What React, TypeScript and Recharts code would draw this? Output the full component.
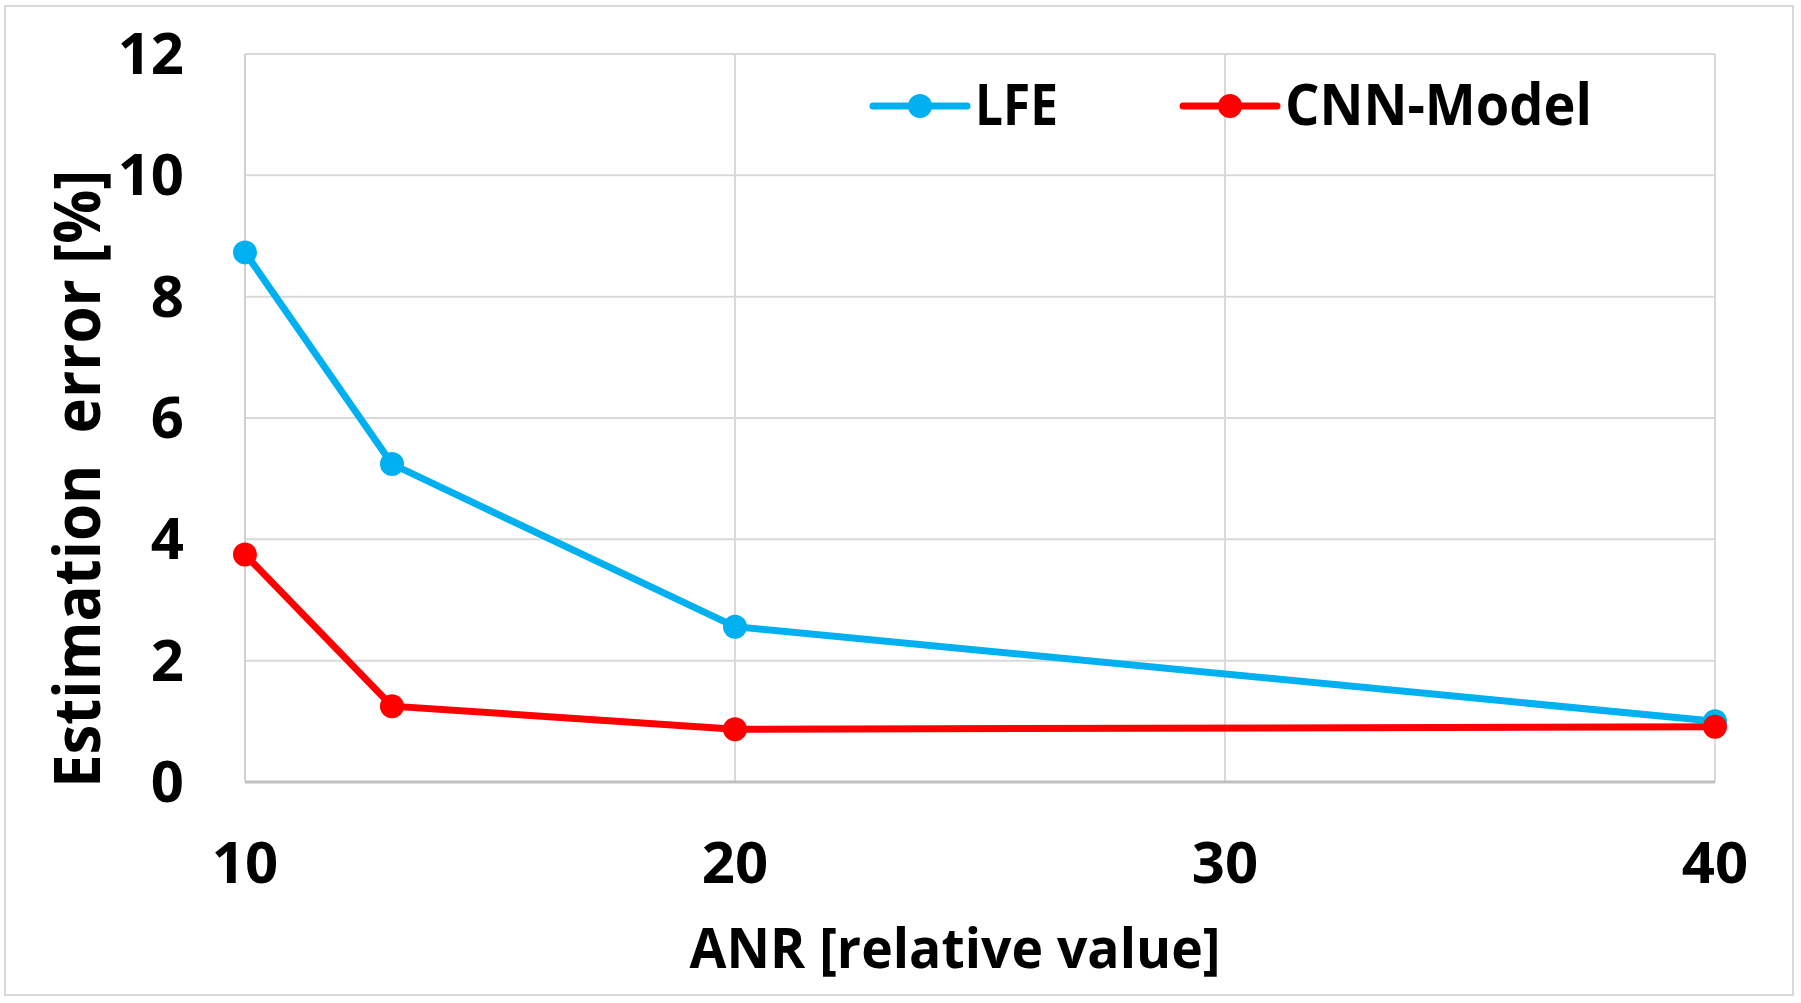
import { LineChart, Line, XAxis, YAxis, CartesianGrid, Legend } from 'recharts';

const anr = [10, 13, 20, 40];
const lfeError = [8.73, 5.24, 2.56, 1.0];
const cnnError = [3.75, 1.25, 0.87, 0.91];
const xTicks = [10, 20, 30, 40];
const yTicks = [0, 2, 4, 6, 8, 10, 12];

const data = anr.map((x, i) => ({ anr: x, lfe: lfeError[i], cnn: cnnError[i] }));

const FONT = '"Open Sans", "Noto Sans", sans-serif';
const LFE_COLOR = '#00B0F0';
const CNN_COLOR = '#FF0000';

const XTick = ({ x, y, payload }: any) => (
  <text x={x} y={y + 101} textAnchor="middle" fontFamily={FONT} fontWeight={700} fontSize={58} fill="#000">
    {payload.value}
  </text>
);

const YTick = ({ x, y, payload }: any) => (
  <text x={x - 61} y={y + 20} textAnchor="end" fontFamily={FONT} fontWeight={700} fontSize={58} fill="#000">
    {payload.value}
  </text>
);

const XLabel = ({ viewBox }: any) => (
  <text
    x={viewBox.x + viewBox.width / 2 - 25}
    y={968}
    textAnchor="middle"
    fontFamily={FONT}
    fontWeight={700}
    fontSize={56}
    fill="#000"
    textLength={531}
    lengthAdjust="spacingAndGlyphs"
  >
    ANR [relative value]
  </text>
);

const YLabel = () => (
  <text
    x={0}
    y={0}
    transform="translate(100, 479) rotate(-90)"
    textAnchor="middle"
    fontFamily={FONT}
    fontWeight={700}
    fontSize={65}
    fill="#000"
    textLength={618}
    lengthAdjust="spacingAndGlyphs"
    style={{ whiteSpace: 'pre' }}
  >
    {'Estimation  error [%]'}
  </text>
);

const renderLegend = () => {
  const items = [
    { name: 'LFE', color: LFE_COLOR, x0: 13, textLen: 83 },
    { name: 'CNN-Model', color: CNN_COLOR, x0: 323, textLen: 307 },
  ];
  return (
    <svg width={800} height={110} style={{ display: 'block', overflow: 'visible' }}>
      {items.map((it) => (
        <g key={it.name}>
          <line x1={it.x0} x2={it.x0 + 94} y1={55} y2={55} stroke={it.color} strokeWidth={7} strokeLinecap="round" />
          <circle cx={it.x0 + 47} cy={55} r={12} fill={it.color} />
          <text
            x={it.x0 + 102}
            y={74}
            fontFamily={FONT}
            fontWeight={700}
            fontSize={58}
            fill="#000"
            textLength={it.textLen}
            lengthAdjust="spacingAndGlyphs"
          >
            {it.name}
          </text>
        </g>
      ))}
    </svg>
  );
};

export default function App() {
  return (
    <div style={{ position: 'absolute', left: 0, top: 0, width: 1801, height: 1003, background: '#fff' }}>
      <div
        style={{
          position: 'absolute',
          left: 4,
          top: 5,
          width: 1786,
          height: 987,
          border: '2px solid #D9D9D9',
        }}
      />
      <LineChart
        width={1801}
        height={1003}
        data={data}
        margin={{ top: 54, right: 86, left: 105, bottom: 41 }}
        style={{ position: 'absolute', left: 0, top: 0 }}
      >
        <CartesianGrid stroke="#D9D9D9" strokeWidth={2} />
        <XAxis
          dataKey="anr"
          type="number"
          domain={[10, 40]}
          ticks={xTicks}
          height={180}
          tickSize={0}
          tickMargin={0}
          tick={<XTick />}
          axisLine={{ stroke: '#BFBFBF', strokeWidth: 3 }}
          tickLine={false}
          label={<XLabel />}
        />
        <YAxis
          type="number"
          domain={[0, 12]}
          ticks={yTicks}
          width={140}
          tickSize={0}
          tickMargin={0}
          tick={<YTick />}
          axisLine={{ stroke: '#D0D0D0', strokeWidth: 2 }}
          tickLine={false}
          label={<YLabel />}
        />
        <Legend
          layout="horizontal"
          verticalAlign="middle"
          align="center"
          content={renderLegend}
          wrapperStyle={{ position: 'absolute', left: 860, top: 51, width: 800, height: 110 }}
        />
        <Line
          type="linear"
          dataKey="lfe"
          name="LFE"
          stroke={LFE_COLOR}
          strokeWidth={7}
          dot={{ r: 12, fill: LFE_COLOR, stroke: LFE_COLOR, strokeWidth: 0 }}
          activeDot={false}
          isAnimationActive={false}
        />
        <Line
          type="linear"
          dataKey="cnn"
          name="CNN-Model"
          stroke={CNN_COLOR}
          strokeWidth={7}
          dot={{ r: 12, fill: CNN_COLOR, stroke: CNN_COLOR, strokeWidth: 0 }}
          activeDot={false}
          isAnimationActive={false}
        />
      </LineChart>
    </div>
  );
}
